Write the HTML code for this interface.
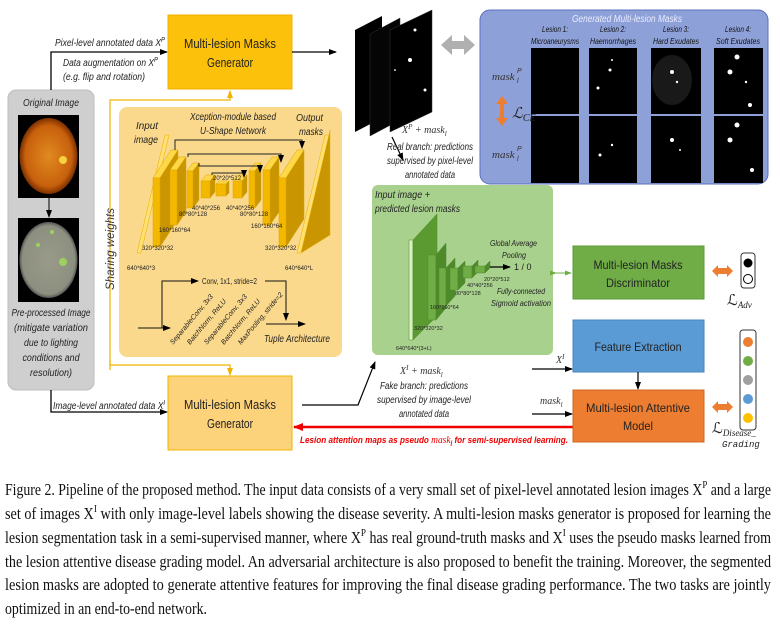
<!DOCTYPE html>
<html><head><meta charset="utf-8"><style>
html,body{margin:0;padding:0;background:#fff;}
svg{display:block;font-family:"Liberation Sans",sans-serif;}
.i{font-style:italic;}
</style></head><body>
<svg width="780" height="628" viewBox="0 0 780 628" xmlns="http://www.w3.org/2000/svg">
<defs>
<marker id="ab" markerWidth="8" markerHeight="8" refX="7" refY="4" orient="auto" markerUnits="userSpaceOnUse"><path d="M0,1 L8,4 L0,7 z" fill="#000"/></marker>
<marker id="ar" markerWidth="10" markerHeight="10" refX="9" refY="5" orient="auto" markerUnits="userSpaceOnUse"><path d="M0,1 L10,5 L0,9 z" fill="#e00"/></marker>
<marker id="ay" markerWidth="8" markerHeight="8" refX="7" refY="4" orient="auto" markerUnits="userSpaceOnUse"><path d="M0,1 L8,4 L0,7 z" fill="#f0b400"/></marker>
<marker id="ag" markerWidth="7" markerHeight="7" refX="6" refY="3.5" orient="auto" markerUnits="userSpaceOnUse"><path d="M0,1 L7,3.5 L0,6 z" fill="#70ad47"/></marker>
<radialGradient id="fund" cx="0.5" cy="0.5" r="0.5"><stop offset="0" stop-color="#e08a20"/><stop offset="0.8" stop-color="#c8600c"/><stop offset="1" stop-color="#7a3000"/></radialGradient>
<radialGradient id="fund2" cx="0.5" cy="0.5" r="0.5"><stop offset="0" stop-color="#9a9a88"/><stop offset="0.9" stop-color="#8c9080"/><stop offset="1" stop-color="#555"/></radialGradient>
</defs>

<!-- gray panel -->
<rect x="8" y="90" width="86" height="300" rx="8" fill="#cfcfcf" stroke="#bdbdbd"/>
<text x="51" y="106" font-size="10" class="i" text-anchor="middle" fill="#222" textLength="56" lengthAdjust="spacingAndGlyphs">Original Image</text>
<rect x="18" y="115" width="61" height="83" fill="#000"/>
<ellipse cx="48.5" cy="156" rx="29" ry="38" fill="url(#fund)"/>
<circle cx="63" cy="160" r="4" fill="#f5d040"/>
<line x1="49" y1="198" x2="49" y2="217" stroke="#000" marker-end="url(#ab)"/>
<rect x="18" y="218" width="61" height="84" fill="#000"/>
<ellipse cx="48.5" cy="260" rx="29" ry="38" fill="url(#fund2)"/>
<circle cx="63" cy="262" r="4" fill="#9ed060"/><circle cx="38" cy="245" r="2" fill="#9ed060"/><circle cx="52" cy="232" r="2" fill="#9ed060"/>
<g font-size="10" class="i" text-anchor="middle" fill="#222">
<text x="51" y="316" textLength="79" lengthAdjust="spacingAndGlyphs">Pre-processed Image</text>
<text x="51" y="331" textLength="74" lengthAdjust="spacingAndGlyphs">(mitigate variation</text>
<text x="51" y="346" textLength="54" lengthAdjust="spacingAndGlyphs">due to lighting</text>
<text x="51" y="361" textLength="57" lengthAdjust="spacingAndGlyphs">conditions and</text>
<text x="51" y="376" textLength="42" lengthAdjust="spacingAndGlyphs">resolution)</text>
</g>

<!-- top path -->
<polyline points="51,90 51,52 167,52" fill="none" stroke="#000" stroke-width="1.3" marker-end="url(#ab)"/>
<text x="55" y="46" font-size="10" class="i" fill="#222" textLength="110" lengthAdjust="spacingAndGlyphs">Pixel-level annotated data X<tspan font-size="7" dy="-4">P</tspan></text>
<text x="63" y="66" font-size="10" class="i" fill="#222" textLength="95" lengthAdjust="spacingAndGlyphs">Data augmentation on X<tspan font-size="7" dy="-4">P</tspan></text>
<text x="63" y="80" font-size="10" class="i" fill="#222" textLength="82" lengthAdjust="spacingAndGlyphs">(e.g. flip and rotation)</text>

<!-- top generator -->
<rect x="168" y="15" width="124" height="74" fill="#fcc10a" stroke="#f0b000"/>
<text x="230" y="48" font-size="13" text-anchor="middle" fill="#222" textLength="92" lengthAdjust="spacingAndGlyphs">Multi-lesion Masks</text>
<text x="230" y="67" font-size="13" text-anchor="middle" fill="#222" textLength="46" lengthAdjust="spacingAndGlyphs">Generator</text>
<line x1="292" y1="52" x2="336" y2="52" stroke="#000" stroke-width="1.3" marker-end="url(#ab)"/>

<!-- sharing weights -->
<polyline points="110,370 110,100 230,100 230,91" fill="none" stroke="#f0b400" stroke-width="1.2" marker-end="url(#ay)"/>
<polyline points="110,360 110,365 230,365 230,375" fill="none" stroke="#f0b400" stroke-width="1.2" marker-end="url(#ay)"/>
<text transform="translate(114,290) rotate(-90)" font-size="12" class="i" fill="#333" textLength="82" lengthAdjust="spacingAndGlyphs">Sharing weights</text>

<!-- orange panel -->
<rect x="119" y="107" width="223" height="250" rx="8" fill="#fbd98c"/>
<text x="233" y="120" font-size="10" class="i" text-anchor="middle" fill="#222" textLength="86" lengthAdjust="spacingAndGlyphs">Xception-module based</text>
<text x="233" y="134" font-size="10" class="i" text-anchor="middle" fill="#222" textLength="66" lengthAdjust="spacingAndGlyphs">U-Shape Network</text>
<text x="136" y="129" font-size="10" class="i" fill="#222" textLength="22" lengthAdjust="spacingAndGlyphs">Input</text>
<text x="134" y="143" font-size="10" class="i" fill="#222" textLength="24" lengthAdjust="spacingAndGlyphs">image</text>
<text x="296" y="121" font-size="10" class="i" fill="#222" textLength="27" lengthAdjust="spacingAndGlyphs">Output</text>
<text x="299" y="135" font-size="10" class="i" fill="#222" textLength="24" lengthAdjust="spacingAndGlyphs">masks</text>

<g stroke="#e8b000" stroke-width="0.5">
<polygon points="137,253 141,253 169,135 165,135" fill="#ffe070"/>
<polygon points="297,253 301,253 329,135 325,135" fill="#ffe070"/>
<polygon points="301,253 330,235 330,130 329,135" fill="#c99500"/>
</g>
<g stroke="#d9a400" stroke-width="0.5">
<polygon points="153,178 160,178 178,150 171,150" fill="#ffd84a"/><polygon points="160,178 160,247 178,219 178,150" fill="#c99500"/><rect x="153" y="178" width="7" height="69" fill="#f5b800"/>
<polygon points="170,170 177,170 186,157 179,157" fill="#ffd84a"/><polygon points="177,170 177,225 186,212 186,157" fill="#c99500"/><rect x="170" y="170" width="7" height="55" fill="#f5b800"/>
<polygon points="187,171 193,171 199,163 193,163" fill="#ffd84a"/><polygon points="193,171 193,208 199,200 199,163" fill="#c99500"/><rect x="187" y="171" width="6" height="37" fill="#f5b800"/>
<polygon points="201,181 210,181 215,175 206,175" fill="#ffd84a"/><polygon points="210,181 210,198 215,192 215,175" fill="#c99500"/><rect x="201" y="181" width="9" height="17" fill="#f5b800"/>
<polygon points="216,184 226,184 229,181 219,181" fill="#ffd84a"/><polygon points="226,184 226,196 229,193 229,181" fill="#c99500"/><rect x="216" y="184" width="10" height="12" fill="#f5b800"/>
<polygon points="233,181 242,181 247,175 238,175" fill="#ffd84a"/><polygon points="242,181 242,198 247,192 247,175" fill="#c99500"/><rect x="233" y="181" width="9" height="17" fill="#f5b800"/>
<polygon points="249,171 255,171 261,163 255,163" fill="#ffd84a"/><polygon points="255,171 255,208 261,200 261,163" fill="#c99500"/><rect x="249" y="171" width="6" height="37" fill="#f5b800"/>
<polygon points="263,170 270,170 279,157 272,157" fill="#ffd84a"/><polygon points="270,170 270,225 279,212 279,157" fill="#c99500"/><rect x="263" y="170" width="7" height="55" fill="#f5b800"/>
<polygon points="279,178 286,178 304,150 297,150" fill="#ffd84a"/><polygon points="286,178 286,247 304,219 304,150" fill="#c99500"/><rect x="279" y="178" width="7" height="69" fill="#f5b800"/>
</g>
<g fill="none" stroke="#222" stroke-width="1">
<polyline points="175,150 175,140 302,140 302,148" marker-end="url(#ab)"/>
<polyline points="188,157 188,154 281,154 281,162" marker-end="url(#ab)"/>
<polyline points="199,163 199,166 260,166 260,172" marker-end="url(#ab)"/>
<polyline points="212,175 212,173 244,173 244,177" marker-end="url(#ab)"/>
</g>
<g font-size="6" fill="#222">
<text x="213" y="180">20*20*512</text>
<text x="192" y="210">40*40*256</text>
<text x="226" y="210">40*40*256</text>
<text x="179" y="216">80*80*128</text>
<text x="240" y="216">80*80*128</text>
<text x="159" y="232">160*160*64</text>
<text x="251" y="228">160*160*64</text>
<text x="142" y="250">320*320*32</text>
<text x="265" y="250">320*320*32</text>
<text x="127" y="270">640*640*3</text>
<text x="285" y="270">640*640*L</text>
</g>
<g fill="none" stroke="#111" stroke-width="1">
<line x1="138" y1="328" x2="170" y2="328" marker-end="url(#ab)"/>
<polyline points="162,328 162,281 198,281" marker-end="url(#ab)"/>
<polyline points="265,281 286,281 286,320" marker-end="url(#ab)"/>
<line x1="266" y1="324" x2="305" y2="324" marker-end="url(#ab)"/>
</g>
<text x="202" y="284" font-size="8" fill="#222" textLength="55" lengthAdjust="spacingAndGlyphs">Conv, 1x1, stride=2</text>
<g font-size="7" class="i" fill="#222">
<text transform="translate(173,345) rotate(-50)">SeparableConv, 3x3</text>
<text transform="translate(190,345) rotate(-50)">BatchNorm, ReLU</text>
<text transform="translate(207,345) rotate(-50)">SeparableConv, 3x3</text>
<text transform="translate(224,345) rotate(-50)">BatchNorm, ReLU</text>
<text transform="translate(241,345) rotate(-50)">MaxPooling, stride=2</text>
</g>
<text x="264" y="342" font-size="10" class="i" fill="#222" textLength="66" lengthAdjust="spacingAndGlyphs">Tuple Architecture</text>

<!-- bottom path -->
<polyline points="51,390 51,412 167,412" fill="none" stroke="#000" stroke-width="1.3" marker-end="url(#ab)"/>
<text x="53" y="409" font-size="10" class="i" fill="#222" textLength="112" lengthAdjust="spacingAndGlyphs">Image-level annotated data X<tspan font-size="7" dy="-4">I</tspan></text>
<rect x="168" y="376" width="124" height="74" fill="#fcd27a" stroke="#f0b400"/>
<text x="230" y="409" font-size="13" text-anchor="middle" fill="#222" textLength="92" lengthAdjust="spacingAndGlyphs">Multi-lesion Masks</text>
<text x="230" y="428" font-size="13" text-anchor="middle" fill="#222" textLength="46" lengthAdjust="spacingAndGlyphs">Generator</text>
<polyline points="302,405 358,405 375,362" fill="none" stroke="#000" stroke-width="1.2" marker-end="url(#ab)"/>

<!-- red line -->
<line x1="573" y1="427" x2="294" y2="427" stroke="#e00" stroke-width="2.5" marker-end="url(#ar)"/>
<text x="300" y="443" font-size="9.5" class="i" font-weight="bold" fill="#e00" textLength="268" lengthAdjust="spacingAndGlyphs">Lesion attention maps as pseudo <tspan font-family="Liberation Serif" font-weight="normal" font-size="11">mask</tspan><tspan font-size="7" dy="3">l</tspan><tspan dy="-3"> for semi-supervised learning.</tspan></text>

<!-- stacked masks -->
<polygon points="355,30 382,16 382,118 355,132" fill="#000"/>
<polygon points="370,34 400,18 400,120 370,136" fill="#050505" stroke="#333" stroke-width="0.5"/>
<polygon points="390,30 432,10 432,112 390,132" fill="#000" stroke="#333" stroke-width="0.5"/>
<circle cx="410" cy="60" r="2" fill="#fff"/><circle cx="415" cy="30" r="1.5" fill="#fff"/><circle cx="425" cy="90" r="1.5" fill="#fff"/><circle cx="395" cy="70" r="1" fill="#ccc"/>
<polygon points="441,45 452,35 452,41 464,41 464,35 475,45 464,55 464,49 452,49 452,55" fill="#b0b0b0"/>
<line x1="392" y1="137" x2="403" y2="160" stroke="#000" stroke-width="1.2" marker-end="url(#ab)"/>
<text x="402" y="133" font-size="10" class="i" font-family="Liberation Serif" fill="#333">X<tspan font-size="7" dy="-4">P</tspan><tspan dy="4"> + mask</tspan><tspan font-size="7" dy="3">l</tspan></text>
<g font-size="10" class="i" fill="#222" text-anchor="middle">
<text x="430" y="150" textLength="86" lengthAdjust="spacingAndGlyphs">Real branch: predictions</text>
<text x="430" y="164" textLength="86" lengthAdjust="spacingAndGlyphs">supervised by pixel-level</text>
<text x="430" y="178" textLength="50" lengthAdjust="spacingAndGlyphs">annotated data</text>
</g>

<!-- blue panel -->
<rect x="480" y="10" width="288" height="174" rx="10" fill="#8ea0d8" stroke="#5a70bb"/>
<text x="627" y="22" font-size="10" class="i" text-anchor="middle" fill="#e8ecff" textLength="110" lengthAdjust="spacingAndGlyphs">Generated Multi-lesion Masks</text>
<g font-size="8" class="i" text-anchor="middle" fill="#111">
<text x="555" y="32" textLength="26" lengthAdjust="spacingAndGlyphs">Lesion 1:</text><text x="555" y="44" textLength="48" lengthAdjust="spacingAndGlyphs">Microaneurysms</text>
<text x="613" y="32" textLength="26" lengthAdjust="spacingAndGlyphs">Lesion 2:</text><text x="613" y="44" textLength="46" lengthAdjust="spacingAndGlyphs">Haemorrhages</text>
<text x="676" y="32" textLength="26" lengthAdjust="spacingAndGlyphs">Lesion 3:</text><text x="676" y="44" textLength="46" lengthAdjust="spacingAndGlyphs">Hard Exudates</text>
<text x="738" y="32" textLength="26" lengthAdjust="spacingAndGlyphs">Lesion 4:</text><text x="738" y="44" textLength="44" lengthAdjust="spacingAndGlyphs">Soft Exudates</text>
</g>
<g fill="#000">
<rect x="531" y="48" width="48" height="66"/><rect x="531" y="116" width="48" height="67"/>
<rect x="589" y="48" width="48" height="66"/><rect x="589" y="116" width="48" height="67"/>
<rect x="651" y="48" width="50" height="66"/><rect x="651" y="116" width="50" height="67"/>
<rect x="714" y="48" width="49" height="66"/><rect x="714" y="116" width="49" height="67"/>
</g>
<ellipse cx="672" cy="80" rx="20" ry="25" fill="#2a2a2a" opacity="0.6"/>
<g fill="#fff">
<circle cx="737" cy="57" r="2.5"/><circle cx="730" cy="72" r="2.5"/><circle cx="746" cy="82" r="1.2"/><circle cx="750" cy="105" r="2"/>
<circle cx="737" cy="125" r="2.5"/><circle cx="730" cy="140" r="2.5"/><circle cx="752" cy="170" r="2"/>
<circle cx="612" cy="60" r="1"/><circle cx="610" cy="70" r="1.5"/><circle cx="598" cy="88" r="1.5"/><circle cx="612" cy="145" r="1.2"/><circle cx="600" cy="155" r="1.5"/>
<circle cx="672" cy="72" r="2"/><circle cx="677" cy="82" r="1.2"/><circle cx="672" cy="140" r="2"/><circle cx="680" cy="150" r="1"/>
</g>
<text x="492" y="80" font-size="11" class="i" font-family="Liberation Serif" fill="#333">mask</text><text x="517" y="83" font-size="7" class="i" fill="#333">l</text><text x="517" y="73" font-size="7" class="i" fill="#333">P</text>
<text x="492" y="158" font-size="11" class="i" font-family="Liberation Serif" fill="#333">mask</text><text x="517" y="161" font-size="7" class="i" fill="#333">l</text><text x="517" y="151" font-size="7" class="i" fill="#333">P</text>
<polygon points="496,104 502,96 508,104 504,104 504,118 508,118 502,126 496,118 500,118 500,104" fill="#ed7d31"/>
<text x="512" y="118" font-size="15" font-family="Liberation Serif" class="i" fill="#222">ℒ<tspan font-size="10" dy="3">CE</tspan></text>

<!-- green panel -->
<rect x="372" y="185" width="181" height="170" rx="6" fill="#a9d18e"/>
<text x="375" y="198" font-size="10" class="i" fill="#222" textLength="55" lengthAdjust="spacingAndGlyphs">Input image +</text>
<text x="375" y="212" font-size="10" class="i" fill="#222" textLength="85" lengthAdjust="spacingAndGlyphs">predicted lesion masks</text>
<g stroke="#4f8a2a" stroke-width="0.5">
<polygon points="409,340 413,340 413,240 409,240" fill="#d8f0c0"/>
<polygon points="413,340 437,316 437,214 413,240" fill="#5a9a30"/>
<polygon points="428,320 436,320 436,255 428,255" fill="#70ad47"/><polygon points="436,320 446,308 446,243 436,255" fill="#4f8a2a"/>
<polygon points="439,306 446,306 446,268 439,268" fill="#70ad47"/><polygon points="446,306 455,296 455,258 446,268" fill="#4f8a2a"/>
<polygon points="450,290 458,290 458,268 450,268" fill="#70ad47"/><polygon points="458,290 465,283 465,261 458,268" fill="#4f8a2a"/>
<polygon points="463,278 472,278 472,266 463,266" fill="#70ad47"/><polygon points="472,278 478,272 478,260 472,266" fill="#4f8a2a"/>
<polygon points="475,273 485,273 485,266 475,266" fill="#70ad47"/><polygon points="485,273 490,268 490,261 485,266" fill="#4f8a2a"/>
</g>
<line x1="490" y1="267" x2="510" y2="267" stroke="#000" stroke-width="1.3" marker-end="url(#ab)"/>
<text x="514" y="270" font-size="9" fill="#222">1 / 0</text>
<text x="490" y="246" font-size="8" class="i" fill="#222" textLength="47" lengthAdjust="spacingAndGlyphs">Global Average</text>
<text x="502" y="258" font-size="8" class="i" fill="#222" textLength="24" lengthAdjust="spacingAndGlyphs">Pooling</text>
<text x="497" y="294" font-size="8" class="i" fill="#222" textLength="48" lengthAdjust="spacingAndGlyphs">Fully-connected</text>
<text x="491" y="306" font-size="8" class="i" fill="#222" textLength="60" lengthAdjust="spacingAndGlyphs">Sigmoid activation</text>
<g font-size="5.5" fill="#222">
<text x="484" y="281">20*20*512</text><text x="467" y="287">40*40*256</text><text x="455" y="295">80*80*128</text><text x="430" y="309">160*160*64</text><text x="414" y="330">320*320*32</text><text x="396" y="350">640*640*(3+L)</text>
</g>
<line x1="556" y1="273" x2="571" y2="273" stroke="#70ad47" stroke-width="1" marker-end="url(#ag)" marker-start="url(#ag)"/>

<text x="400" y="374" font-size="10" class="i" font-family="Liberation Serif" fill="#333">X<tspan font-size="7" dy="-4">I</tspan><tspan dy="4"> + mask</tspan><tspan font-size="7" dy="3">l</tspan></text>
<g font-size="10" class="i" fill="#222" text-anchor="middle">
<text x="424" y="389" textLength="88" lengthAdjust="spacingAndGlyphs">Fake branch: predictions</text>
<text x="424" y="403" textLength="94" lengthAdjust="spacingAndGlyphs">supervised  by image-level</text>
<text x="424" y="417" textLength="50" lengthAdjust="spacingAndGlyphs">annotated data</text>
</g>

<!-- right boxes -->
<rect x="573" y="246" width="131" height="53" fill="#70ad47" stroke="#5a9a35"/>
<text x="638" y="269" font-size="12" text-anchor="middle" fill="#222" textLength="89" lengthAdjust="spacingAndGlyphs">Multi-lesion Masks</text>
<text x="638" y="287" font-size="12" text-anchor="middle" fill="#222" textLength="64" lengthAdjust="spacingAndGlyphs">Discriminator</text>
<rect x="573" y="320" width="131" height="52" fill="#5b9bd5" stroke="#4a86c0"/>
<text x="638" y="351" font-size="12" text-anchor="middle" fill="#222" textLength="87" lengthAdjust="spacingAndGlyphs">Feature Extraction</text>
<line x1="638" y1="372" x2="638" y2="389" stroke="#000" stroke-width="1.2" marker-end="url(#ab)"/>
<rect x="573" y="390" width="131" height="52" fill="#ed7d31" stroke="#d06820"/>
<text x="638" y="412" font-size="12" text-anchor="middle" fill="#222" textLength="104" lengthAdjust="spacingAndGlyphs">Multi-lesion Attentive</text>
<text x="638" y="430" font-size="12" text-anchor="middle" fill="#222" textLength="30" lengthAdjust="spacingAndGlyphs">Model</text>
<line x1="532" y1="369" x2="572" y2="369" stroke="#000" stroke-width="1.3" marker-end="url(#ab)"/>
<line x1="532" y1="414" x2="572" y2="414" stroke="#000" stroke-width="1.3" marker-end="url(#ab)"/>
<text x="556" y="363" font-size="10" class="i" font-family="Liberation Serif" fill="#333">X<tspan font-size="7" dy="-4">I</tspan></text>
<text x="540" y="404" font-size="10" class="i" font-family="Liberation Serif" fill="#333">mask<tspan font-size="7" dy="3">l</tspan></text>

<!-- losses -->
<polygon points="712,271 718,265 718,268 727,268 727,265 733,271 727,277 727,274 718,274 718,277" fill="#ed7d31"/>
<rect x="741" y="253" width="14" height="35" rx="3" fill="#fff" stroke="#333"/>
<circle cx="748" cy="263" r="4.5" fill="#000"/><circle cx="748" cy="279" r="4.5" fill="#fff" stroke="#000"/>
<text x="727" y="305" font-size="15" font-family="Liberation Serif" fill="#222">ℒ<tspan font-size="9" class="i" dy="3">Adv</tspan></text>
<polygon points="712,407 718,401 718,404 727,404 727,401 733,407 727,413 727,410 718,410 718,413" fill="#ed7d31"/>
<rect x="740" y="330" width="16" height="100" rx="3" fill="#fff" stroke="#333"/>
<circle cx="748" cy="342" r="5" fill="#ed7d31"/><circle cx="748" cy="361" r="5" fill="#70ad47"/><circle cx="748" cy="380" r="5" fill="#a0a0a0"/><circle cx="748" cy="399" r="5" fill="#5b9bd5"/><circle cx="748" cy="418" r="5" fill="#ffc000"/>
<text x="712" y="433" font-size="15" font-family="Liberation Serif" fill="#222">ℒ<tspan font-size="9" class="i" dy="3">Disease_</tspan></text>
<text x="722" y="447" font-size="9" class="i" font-family="Liberation Mono" fill="#222">Grading</text>

<!-- caption -->
<g font-family="Liberation Serif" font-size="17" fill="#111">
<text x="5" y="495" textLength="766" lengthAdjust="spacingAndGlyphs">Figure 2. Pipeline of the proposed method. The input data consists of a very small set of pixel-level annotated lesion images X<tspan font-size="11" dy="-7">P</tspan><tspan dy="7"> and a large</tspan></text>
<text x="5" y="519" textLength="766" lengthAdjust="spacingAndGlyphs">set of images X<tspan font-size="11" dy="-7">I</tspan><tspan dy="7"> with only image-level labels showing the disease severity. A multi-lesion masks generator is proposed for learning the</tspan></text>
<text x="5" y="543" textLength="766" lengthAdjust="spacingAndGlyphs">lesion segmentation task in a semi-supervised manner, where X<tspan font-size="11" dy="-7">P</tspan><tspan dy="7"> has real ground-truth masks and X</tspan><tspan font-size="11" dy="-7">I</tspan><tspan dy="7"> uses the pseudo masks learned from</tspan></text>
<text x="5" y="567" textLength="766" lengthAdjust="spacingAndGlyphs">the lesion attentive disease grading model. An adversarial architecture is also proposed to benefit the training. Moreover, the segmented</text>
<text x="5" y="590" textLength="766" lengthAdjust="spacingAndGlyphs">lesion masks are adopted to generate attentive features for improving the final disease grading performance. The two tasks are jointly</text>
<text x="5" y="614" textLength="202" lengthAdjust="spacingAndGlyphs">optimized in an end-to-end network.</text>
</g>
</svg>
</body></html>
